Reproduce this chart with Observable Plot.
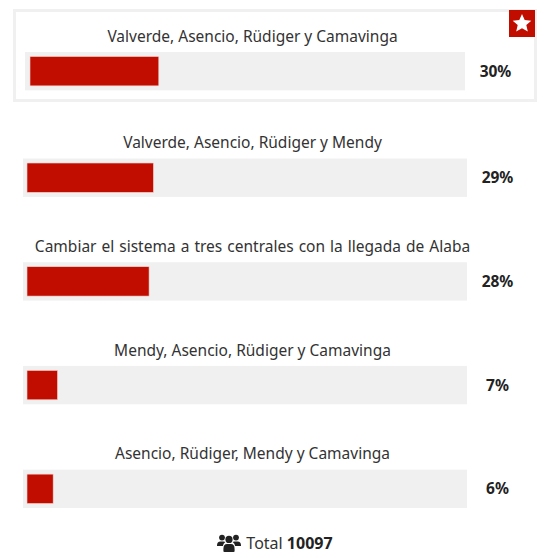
<!DOCTYPE html>
<html><head><meta charset="utf-8">
<script src="https://cdn.jsdelivr.net/npm/d3@7"></script>
<script src="https://cdn.jsdelivr.net/npm/@observablehq/plot@0.6"></script>
<style>
html,body{margin:0;padding:0;background:#fff;width:546px;height:558px;overflow:hidden}
body{position:relative;font-family:"Noto Sans",sans-serif}
#card{position:absolute;left:13px;top:9px;width:518px;height:87px;border:3px solid #f0f0f0}
#badge{position:absolute;left:509px;top:10px;width:26px;height:27px;background:#c10c00}
#chart{position:absolute;left:0;top:0}
#total{position:absolute;left:0;top:529px;width:546px;text-align:center;font-size:16px;line-height:28px;color:#333;padding-left:4px;box-sizing:border-box}
#total b{color:#222}
#total svg{vertical-align:-3px;margin-right:5px}
.wide{word-spacing:1px}
</style></head><body>
<div id="card"></div>
<div id="badge"><svg width="26" height="27" viewBox="-13 -13.5 26 27"><path fill="#fff" d="M0-9.5 2.7-3.4 9.3-2.8 4.3 1.6 5.8 8.1 0 4.7-5.8 8.1-4.3 1.6-9.3-2.8-2.7-3.4Z"/></svg></div>
<div id="chart"></div>
<div id="total"><svg width="24" height="18" viewBox="0 0 24 18"><g fill="#222"><circle cx="5" cy="3.6" r="2.9"/><circle cx="19" cy="3.6" r="2.9"/><circle cx="12" cy="5.4" r="3.6"/><path d="M0 11.5Q0 7.4 3.5 7.4H6.5Q7.6 7.4 8.3 8 6.2 9.6 5.9 12H0Z"/><path d="M24 11.5Q24 7.4 20.5 7.4H17.5Q16.4 7.4 15.7 8 17.8 9.6 18.1 12H24Z"/><path d="M6.4 15Q6.4 10 10 10H14Q17.6 10 17.6 15V17Q17.6 18 16.6 18H7.4Q6.4 18 6.4 17Z"/></g></svg>Total <b>10097</b></div>
<script>
const labels = [
  "Valverde, Asencio, Rüdiger y Camavinga",
  "Valverde, Asencio, Rüdiger y Mendy",
  "Cambiar el sistema a tres centrales con la llegada de Alaba",
  "Mendy, Asencio, Rüdiger y Camavinga",
  "Asencio, Rüdiger, Mendy y Camavinga"
];
const percents = [30, 29, 28, 7, 6];
const rows = labels.map((label, i) => ({label, pct: percents[i]}));
const winner = rows.slice(0, 1), others = [rows[1], rows[3], rows[4]], longest = rows.slice(2, 3);
const font = '"Noto Sans",sans-serif';

function rowMarks(data, o) {
  return [
    Plot.barX(data, {x1: 0, x2: 100, y: "label", fill: "#f0f0f0", dy: o.dy, insetLeft: o.track, insetRight: o.track}),
    Plot.barX(data, {x1: 0, x2: "pct", y: "label", fill: "#c10c00", stroke: "#f5d5d0", strokeWidth: 0.6,
      dx: o.barDx, dy: o.dy, insetTop: 4.5, insetBottom: 4.5, insetRight: o.barInset}),
    Plot.text(data, {x: 50, y: "label", text: "label", dx: 7, dy: -35 + o.dy, fill: "#333", fontSize: 15.5, fontFamily: font, className: o.cls}),
    Plot.text(data, {x: 100, y: "label", text: d => d.pct + "%", dx: o.pctDx, dy: o.dy, fill: "#222", fontSize: 15.5, fontWeight: 700, fontFamily: font})
  ];
}

const chart = Plot.plot({
  width: 546, height: 526, margin: 0,
  style: {background: "transparent", overflow: "visible"},
  x: {domain: [0, 100], range: [27, 463], axis: null},
  y: {type: "band", domain: labels, range: [54.8, 508], round: false, paddingInner: 0.63, paddingOuter: 0, axis: null},
  marks: [
    ...rowMarks(others, {track: -4, barDx: 0, dy: 0, barInset: 0, pctDx: 34}),
    ...rowMarks(longest, {track: -4, barDx: 0, dy: 0, barInset: 0, pctDx: 34, cls: "wide"}),
    ...rowMarks(winner, {track: -2, barDx: 3, dy: -2.8, barInset: 2, pctDx: 32})
  ]
});
document.getElementById("chart").append(chart);
</script>
</body></html>
